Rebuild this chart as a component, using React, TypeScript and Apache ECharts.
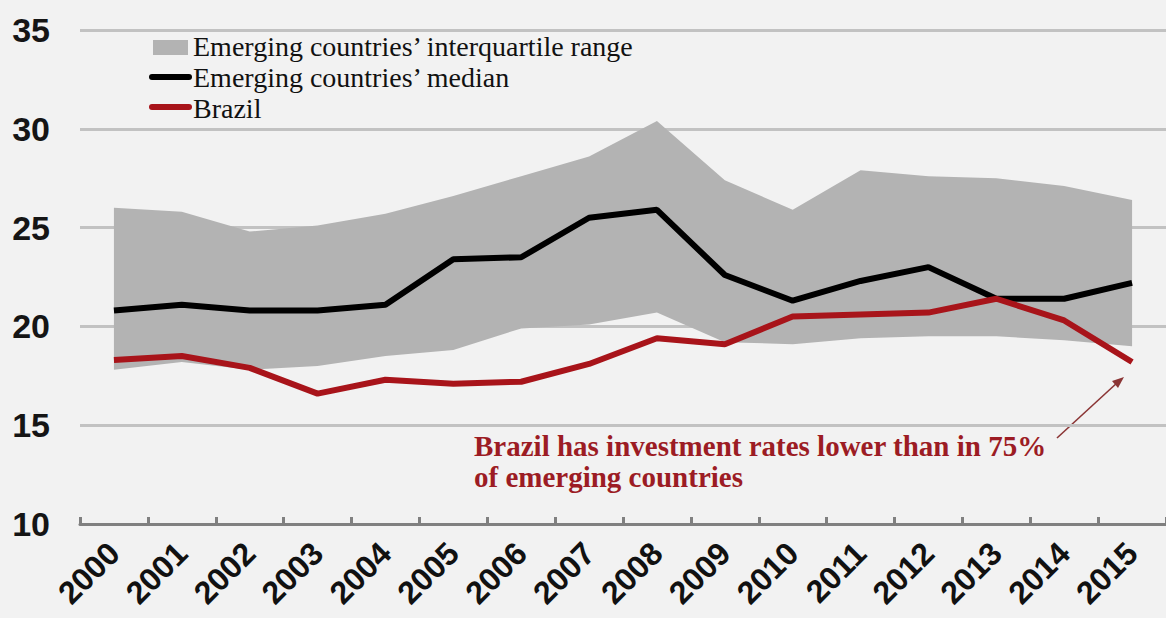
import React, { useEffect, useRef } from "react";
import * as echarts from "echarts";

const years = ["2000", "2001", "2002", "2003", "2004", "2005", "2006", "2007", "2008", "2009", "2010", "2011", "2012", "2013", "2014", "2015"];
const q1 = [17.8, 18.2, 17.8, 18.0, 18.5, 18.8, 19.9, 20.1, 20.7, 19.2, 19.1, 19.4, 19.5, 19.5, 19.3, 19.0];
const q3 = [26.0, 25.8, 24.8, 25.1, 25.7, 26.6, 27.6, 28.6, 30.4, 27.4, 25.9, 27.9, 27.6, 27.5, 27.1, 26.4];
const median = [20.8, 21.1, 20.8, 20.8, 21.1, 23.4, 23.5, 25.5, 25.9, 22.6, 21.3, 22.3, 23.0, 21.4, 21.4, 22.2];
const brazil = [18.3, 18.5, 17.9, 16.6, 17.3, 17.1, 17.2, 18.1, 19.4, 19.1, 20.5, 20.6, 20.7, 21.4, 20.3, 18.2];

const Y_MIN = 10;
const Y_MAX = 35;
const Y_STEP = 5;

const BAND_NAME = "Emerging countries\u2019 interquartile range";
const MEDIAN_NAME = "Emerging countries\u2019 median";
const BRAZIL_NAME = "Brazil";
const NOTE = "Brazil has investment rates lower than in 75%\nof emerging countries";

const BAND_COLOR = "#b3b3b3";
const RED = "#a8141a";
const NOTE_RED = "#9c1c24";

export default function App() {
  const ref = useRef<HTMLDivElement>(null);

  useEffect(() => {
    if (!ref.current) return;
    const chart = echarts.init(ref.current, null, { renderer: "svg" });
    const bandHeight = q3.map((v, i) => +(v - q1[i]).toFixed(2));
    const serif = "'Liberation Serif', 'Times New Roman', serif";
    const sans = "'Liberation Sans', Arial, sans-serif";

    chart.setOption({
      animation: false,
      backgroundColor: "#f2f2f2",
      grid: { left: 80, right: 0, top: 30, bottom: 94, containLabel: false },
      xAxis: {
        type: "category",
        data: years,
        boundaryGap: true,
        axisLine: { show: true, lineStyle: { color: "#808080", width: 3 } },
        axisTick: { show: true, inside: true, length: 7, lineStyle: { color: "#808080", width: 3 } },
        axisLabel: {
          rotate: 45,
          margin: 24,
          interval: 0,
          fontSize: 32,
          fontWeight: "bold",
          fontFamily: sans,
          color: "#111",
        },
        splitLine: { show: false },
      },
      yAxis: {
        type: "value",
        min: Y_MIN,
        max: Y_MAX,
        interval: Y_STEP,
        axisLine: { show: false },
        axisTick: { show: false },
        axisLabel: {
          margin: 30,
          fontSize: 34,
          fontWeight: "bold",
          fontFamily: sans,
          color: "#151515",
        },
        splitLine: { show: true, lineStyle: { color: "#c2c2c2", width: 3 } },
      },
      series: [
        {
          name: "q1",
          type: "line",
          data: q1,
          stack: "band",
          symbol: "none",
          silent: true,
          lineStyle: { opacity: 0 },
          z: 1,
        },
        {
          name: BAND_NAME,
          type: "line",
          data: bandHeight,
          stack: "band",
          symbol: "none",
          silent: true,
          lineStyle: { opacity: 0 },
          areaStyle: { color: BAND_COLOR, opacity: 1 },
          z: 1,
        },
        {
          name: MEDIAN_NAME,
          type: "line",
          data: median,
          symbol: "none",
          lineStyle: { color: "#000", width: 6 },
          z: 3,
        },
        {
          name: BRAZIL_NAME,
          type: "line",
          data: brazil,
          symbol: "none",
          lineStyle: { color: RED, width: 6 },
          z: 4,
        },
      ],
      graphic: [
        { type: "rect", shape: { x: 153, y: 40, width: 35, height: 15 }, style: { fill: BAND_COLOR } },
        { type: "line", shape: { x1: 152, y1: 77, x2: 189, y2: 77 }, style: { stroke: "#000", lineWidth: 6, lineCap: "round" } },
        { type: "line", shape: { x1: 152, y1: 107, x2: 189, y2: 107 }, style: { stroke: RED, lineWidth: 6, lineCap: "round" } },
        { type: "text", x: 193, y: 46, style: { text: BAND_NAME, font: `28px ${serif}`, lineHeight: 26, fill: "#111", verticalAlign: "middle" } },
        { type: "text", x: 193, y: 77, style: { text: MEDIAN_NAME, font: `28px ${serif}`, lineHeight: 26, fill: "#111", verticalAlign: "middle" } },
        { type: "text", x: 193, y: 108, style: { text: BRAZIL_NAME, font: `28px ${serif}`, lineHeight: 26, fill: "#111", verticalAlign: "middle" } },
        {
          type: "text",
          x: 474,
          y: 430,
          style: {
            text: NOTE,
            font: `bold 29px ${serif}`,
            lineHeight: 31,
            fill: NOTE_RED,
            verticalAlign: "top",
          },
        },
        { type: "line", shape: { x1: 1057, y1: 438, x2: 1118, y2: 382 }, style: { stroke: "#8b3535", lineWidth: 1.6 } },
        { type: "polygon", shape: { points: [[1124, 377], [1112, 381], [1118, 388]] }, style: { fill: "#8b3535" } },
      ],
    });

    return () => chart.dispose();
  }, []);

  return <div ref={ref} style={{ position: "absolute", left: 0, top: 0, width: 1166, height: 618 }} />;
}
